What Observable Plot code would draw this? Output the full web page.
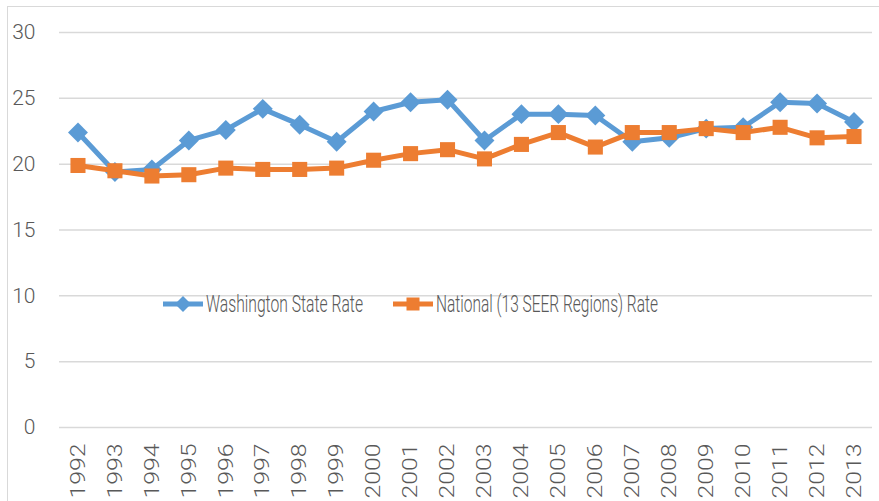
<!DOCTYPE html>
<html><head><meta charset="utf-8">
<script src="https://cdn.jsdelivr.net/npm/d3@7"></script>
<script src="https://cdn.jsdelivr.net/npm/@observablehq/plot@0.6"></script>
<style>
body{margin:0;background:#fff;}
#wrap{position:relative;width:879px;height:501px;overflow:hidden;background:#fff;}
#border{position:absolute;left:7px;top:6px;width:900px;height:600px;border:1.5px solid #d9d9d9;box-sizing:border-box;}
#chart{position:absolute;left:0;top:0;}
#legend{position:absolute;left:0;top:0;}
</style></head>
<body>
<div id="wrap"><div id="border"></div><div id="chart"></div><svg id="legend" width="879" height="501"></svg></div>
<script>
const years = ["1992","1993","1994","1995","1996","1997","1998","1999","2000","2001","2002","2003","2004","2005","2006","2007","2008","2009","2010","2011","2012","2013"];
const washington = [22.4,19.4,19.6,21.8,22.6,24.2,23.0,21.7,24.0,24.7,24.9,21.8,23.8,23.8,23.7,21.7,22.0,22.7,22.8,24.7,24.6,23.2];
const national = [19.9,19.5,19.1,19.2,19.7,19.6,19.6,19.7,20.3,20.8,21.1,20.4,21.5,22.4,21.3,22.4,22.4,22.7,22.4,22.8,22.0,22.1];
const yTicks = [0,5,10,15,20,25,30];
const seriesNames = ["Washington State Rate","National (13 SEER Regions) Rate"];
const colors = ["#5B9BD5","#ED7D31"];

const wa = years.map((y,i)=>({year:y,value:washington[i]}));
const na = years.map((y,i)=>({year:y,value:national[i]}));

const font = "Roboto, 'Open Sans', sans-serif";
const plot = Plot.plot({
  width: 879, height: 501,
  marginLeft: 59, marginRight: 7, marginTop: 32, marginBottom: 74,
  style: {fontFamily: font, fontSize: "21px", color: "#595959", background: "transparent", fontWeight: 300},
  x: {type: "point", domain: years, padding: 0.5, round: false, label: null, tickSize: 0, tickPadding: 16, tickRotate: -90},
  y: {domain: [0,30], ticks: yTicks, label: null, tickSize: 0, tickPadding: 24},
  marks: [
    Plot.gridY(yTicks, {stroke: "#d9d9d9", strokeOpacity: 1, strokeWidth: 1.5}),
    Plot.line(wa, {x: "year", y: "value", stroke: colors[0], strokeWidth: 5}),
    Plot.dot(wa, {x: "year", y: "value", symbol: "diamond2", r: 9, fill: colors[0], stroke: "none"}),
    Plot.line(na, {x: "year", y: "value", stroke: colors[1], strokeWidth: 5}),
    Plot.dot(na, {x: "year", y: "value", symbol: "square", r: 8.5, fill: colors[1], stroke: "none"})
  ]
});
document.getElementById("chart").appendChild(plot);
d3.select(plot).selectAll("[aria-label='x-axis tick label'] text")
  .attr("textLength", 55).attr("lengthAdjust", "spacingAndGlyphs").style("font-size","21px");

// legend
const lg = d3.select("#legend").style("font-family", font).style("font-weight", 300);
const items = [
  {x0:163, x1:203, tx:206, tw:157, sym:"diamond"},
  {x0:393, x1:433, tx:436, tw:222, sym:"square"}
];
const ly = 304;
items.forEach((it,i)=>{
  lg.append("line").attr("x1",it.x0).attr("x2",it.x1).attr("y1",ly).attr("y2",ly)
    .attr("stroke",colors[i]).attr("stroke-width",5);
  const cx=(it.x0+it.x1)/2;
  if(it.sym==="diamond"){
    lg.append("path").attr("d",`M${cx},${ly-8}L${cx+8},${ly}L${cx},${ly+8}L${cx-8},${ly}Z`).attr("fill",colors[i]);
  } else {
    lg.append("rect").attr("x",cx-6.5).attr("y",ly-6.5).attr("width",13).attr("height",13).attr("fill",colors[i]);
  }
  lg.append("text").attr("x",it.tx).attr("y",ly).attr("dy","0.36em")
    .attr("fill","#595959").style("font-size","23px")
    .attr("textLength",it.tw).attr("lengthAdjust","spacingAndGlyphs")
    .text(seriesNames[i]);
});
</script>
</body></html>
